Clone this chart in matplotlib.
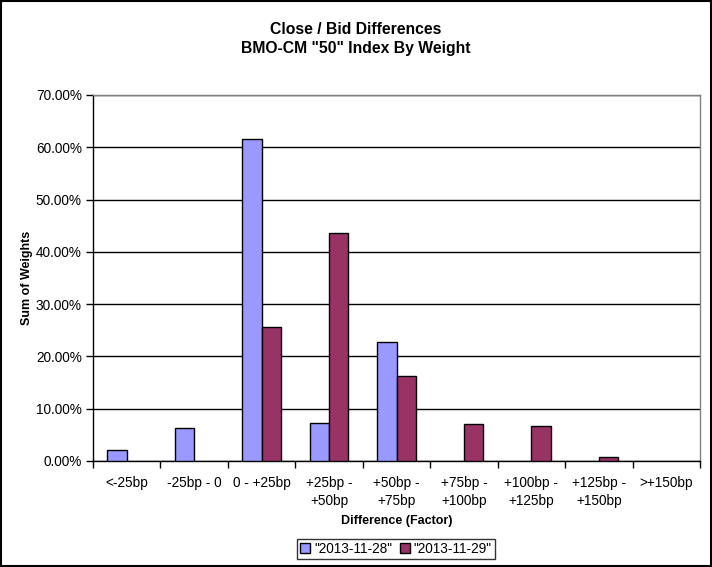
import matplotlib
matplotlib.use("Agg")
import matplotlib.pyplot as plt
import numpy as np
from matplotlib.ticker import FuncFormatter, FixedLocator
from matplotlib.patches import Rectangle

categories = ["<-25bp", "-25bp - 0", "0 - +25bp", "+25bp -\n+50bp", "+50bp -\n+75bp",
              "+75bp -\n+100bp", "+100bp -\n+125bp", "+125bp -\n+150bp", ">+150bp"]
series_names = ['"2013-11-28"', '"2013-11-29"']
s1 = [2.1, 6.4, 61.5, 7.2, 22.7, 0.0, 0.0, 0.0, 0.0]
s2 = [0.0, 0.0, 25.6, 43.7, 16.2, 7.0, 6.6, 0.7, 0.0]
colors = ["#9999FF", "#993366"]

plt.rcParams['font.family'] = ['Liberation Sans', 'DejaVu Sans']

fig = plt.figure(figsize=(7.12, 5.67), dpi=100)
ax = fig.add_axes([93/712, 1 - 461/567, (700-93)/712, (461-95)/567])

x = np.arange(len(categories))
w = 1/3.5
for i, (vals, c, name) in enumerate(zip([s1, s2], colors, series_names)):
    xs = x + (i - 0.5) * w
    v = np.array(vals)
    mask = v > 0
    ax.bar(xs[mask], v[mask], width=w, color=c, edgecolor='black', linewidth=1.0,
           label=name, zorder=3)

ax.set_xlim(-0.5, len(categories) - 0.5)
ax.set_ylim(0, 70)
ax.yaxis.set_major_locator(FixedLocator(np.arange(0, 71, 10)))
ax.yaxis.set_major_formatter(FuncFormatter(lambda v, p: f"{v:.2f}%"))
ax.grid(axis='y', color='black', linewidth=1.0, zorder=1)
ax.set_axisbelow(True)

ax.set_xticks(x)
ax.set_xticklabels(categories, fontsize=9.8, linespacing=1.35)
ax.tick_params(axis='x', which='major', length=0, pad=11)
ax.set_xticks(np.arange(-0.5, len(categories)), minor=True)
ax.tick_params(axis='x', which='minor', length=5, direction='out', width=1)
ax.tick_params(axis='y', length=5, direction='out', width=1, labelsize=9.8, pad=3)

for s in ['left', 'bottom']:
    ax.spines[s].set_color('black')
    ax.spines[s].set_linewidth(1.0)
for s in ['top', 'right']:
    ax.spines[s].set_color('#808080')
    ax.spines[s].set_linewidth(1.0)

ax.set_ylabel("Sum of Weights", fontsize=9, fontweight='bold', labelpad=2)
ax.set_xlabel("Difference (Factor)", fontsize=9, fontweight='bold', labelpad=5)

fig.text(356/712, 1 - 30/567, 'Close / Bid Differences', ha='center', va='center',
         fontsize=11.3, fontweight='bold')
fig.text(356/712, 1 - 49/567, 'BMO-CM "50" Index By Weight', ha='center', va='center',
         fontsize=11.3, fontweight='bold')

leg = fig.legend(loc='center', bbox_to_anchor=(396/712, 1 - 549/567), ncol=2,
                 fontsize=9.8, frameon=True, fancybox=False, edgecolor='black',
                 handlelength=0.7, handleheight=0.7, handletextpad=0.3,
                 columnspacing=0.6, borderpad=0.25)
leg.get_frame().set_linewidth(1.0)

fig.patches.append(Rectangle((0.0015, 0.002), 0.997, 0.996, transform=fig.transFigure,
                             fill=False, edgecolor='black', linewidth=1.5))

fig.savefig("out.png", dpi=100)
